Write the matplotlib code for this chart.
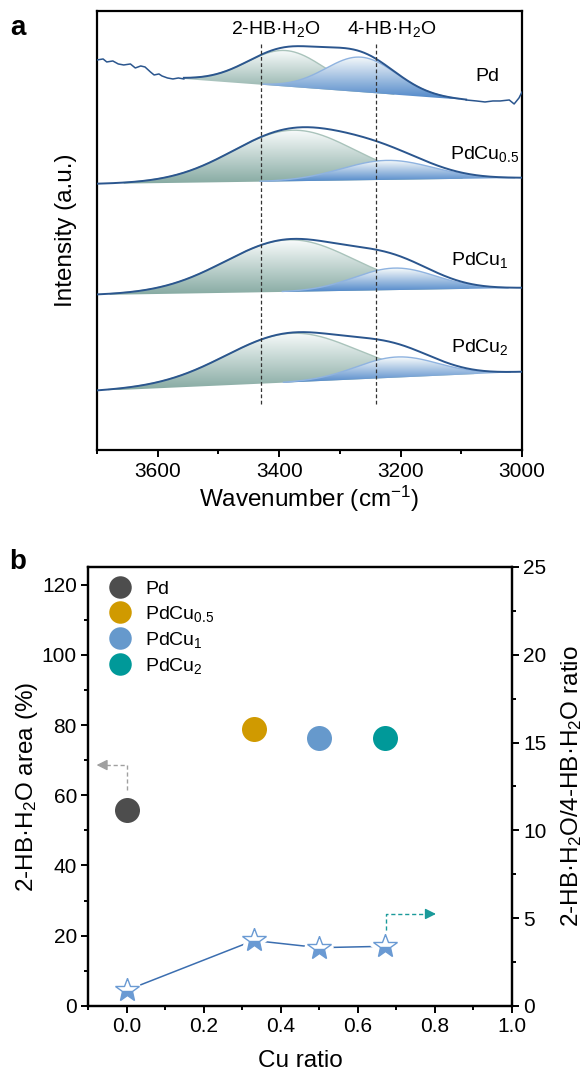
import numpy as np
import matplotlib
matplotlib.use('Agg')
from matplotlib import pyplot as plt
from matplotlib.colors import LinearSegmentedColormap
from matplotlib.ticker import MultipleLocator, FormatStrFormatter

plt.rcParams['font.family'] = ['Liberation Sans', 'DejaVu Sans']
plt.rcParams['mathtext.default'] = 'regular'

# ---------------- panel a: fitted spectra (offset, a.u.) ----------------
samples = ['Pd', 'PdCu$_{0.5}$', 'PdCu$_1$', 'PdCu$_2$']
fit_start = [3557, 3700, 3700, 3700]
fit_end = [3092, 3000, 3000, 3000]
base_start = [371, 266, 155, 59]
base_end = [350, 272, 162, 78]
# 2-HB.H2O component
c1 = [3389, 3377, 3383, 3380]
h1 = [36, 51, 52, 49]
s1 = [64, 100, 106, 108]
# 4-HB.H2O component
c2 = [3265, 3222, 3209, 3206]
h2 = [35, 19.5, 22, 20.6]
s2 = [58, 75, 67, 67]
label_x = [3057, 3061, 3070, 3070]
label_y = [373, 296, 190, 103]

# raw Pd data outside the fit range
pd_left_x = [3700, 3690, 3684, 3674, 3665, 3656, 3645, 3637, 3628, 3621, 3612,
             3606, 3598, 3593, 3584, 3575, 3566, 3557]
pd_left_y = [390, 391, 388, 389, 386, 385, 386, 382, 384, 383, 378,
             375, 376, 374, 372, 371, 372, 371]
pd_right_x = [3092, 3075, 3061, 3048, 3036, 3021, 3013, 3005, 3000]
pd_right_y = [350, 349, 348, 349, 349, 350, 346, 352, 358]

band_pos = [3430, 3240]
band_names = ['2-HB·H$_2$O', '4-HB·H$_2$O']
band_label_x = [3405, 3215]

# ---------------- panel b ----------------
cu_ratio = [0.0, 0.33, 0.5, 0.67]
area_2hb = [55.8, 78.9, 76.3, 76.3]
hb_ratio = [0.89, 3.73, 3.32, 3.40]
pt_colors = ['#4d4d4d', '#d09a00', '#6699cc', '#009999']

green = '#86aaa2'
blue = '#4f87c9'


def gauss(x, c, h, s):
    return h * np.exp(-(x - c) ** 2 / (2 * s ** 2))


def grad_fill(ax, x, lo, hi, color, z):
    poly = ax.fill_between(x, lo, hi, facecolor='none', edgecolor='none', zorder=z)
    path = poly.get_paths()[0]
    cmap = LinearSegmentedColormap.from_list('g', [color, '#f8fbfb'])
    grad = np.linspace(0, 1, 256).reshape(-1, 1)
    im = ax.imshow(grad, extent=[x.min(), x.max(), lo.min(), hi.max()], origin='lower',
                   aspect='auto', cmap=cmap, zorder=z, interpolation='bilinear')
    im.set_clip_path(path, transform=ax.transData)


fig = plt.figure(figsize=(5.87, 10.75), dpi=100)
ax = fig.add_axes([0.1653, 0.5814, 0.724, 0.4084])

for k in range(4):
    x = np.linspace(fit_start[k], fit_end[k], 400)
    base = base_start[k] + (x - fit_start[k]) / (fit_end[k] - fit_start[k]) * (base_end[k] - base_start[k])
    g1 = gauss(x, c1[k], h1[k], s1[k])
    g2 = gauss(x, c2[k], h2[k], s2[k])
    m1 = g1 > 0.02 * h1[k]
    m2 = g2 > 0.02 * h2[k]
    grad_fill(ax, x[m1], base[m1], base[m1] + g1[m1], green, 2)
    ax.plot(x[m1], base[m1] + g1[m1], color='#a9c3bb', lw=1, zorder=3)
    grad_fill(ax, x[m2], base[m2], base[m2] + g2[m2], blue, 4)
    ax.plot(x[m2], base[m2] + g2[m2], color='#8fb3e0', lw=1, zorder=5)
    ax.plot(x, base + g1 + g2, color='#2b568e', lw=1.4, zorder=6)
    ax.text(label_x[k], label_y[k], samples[k], fontsize=14, ha='center', va='center')

ax.plot(pd_left_x, pd_left_y, color='#2b568e', lw=1.1, zorder=6)
ax.plot(pd_right_x, pd_right_y, color='#2b568e', lw=1.1, zorder=6)

for xp in band_pos:
    ax.plot([xp, xp], [46, 407], color='#333333', lw=0.9, ls=(0, (3, 2)), zorder=7)
for xp, nm in zip(band_label_x, band_names):
    ax.text(xp, 421, nm, fontsize=14, ha='center', va='center')

ax.set_xlim(3700, 3000)
ax.set_ylim(0, 439)
ax.set_yticks([])
ax.xaxis.set_major_locator(MultipleLocator(200))
ax.xaxis.set_minor_locator(MultipleLocator(100))
ax.tick_params(axis='x', which='major', direction='out', length=5, width=1.4, labelsize=15, pad=4)
ax.tick_params(axis='x', which='minor', direction='out', length=3, width=1.4)
for sp in ax.spines.values():
    sp.set_linewidth(1.6)
ax.set_xlabel('Wavenumber (cm$^{−1}$)', fontsize=17.5)
ax.xaxis.set_label_coords(0.5, -0.078)
ax.set_ylabel('Intensity (a.u.)', fontsize=17.5)
ax.yaxis.set_label_coords(-0.047, 0.5)
fig.text(18 / 587, 1 - 28 / 1075, 'a', fontsize=20, fontweight='bold', ha='center', va='center')

# ---------------- panel b ----------------
bx = fig.add_axes([0.1499, 0.0642, 0.7223, 0.4084])
bx2 = bx.twinx()

handles = []
for i in range(4):
    h, = bx.plot(cu_ratio[i], area_2hb[i], 'o', ms=18, color=pt_colors[i], mec='none',
                 label=samples[i], zorder=5)
    handles.append(h)

# dashed guide arrows
bx.plot([0, 0, -0.06], [61.5, 68.6, 68.6], color='#a0a0a0', lw=1, ls=(0, (3, 2)))
bx.annotate('', xy=(-0.085, 68.6), xytext=(-0.06, 68.6),
            arrowprops=dict(arrowstyle='-|>', color='#a0a0a0', lw=1, mutation_scale=16))

bx2.plot(cu_ratio, hb_ratio, color='#3b6eb0', lw=1.1, zorder=2)
bx2.plot(cu_ratio, hb_ratio, '*', ms=18, color='white', mec='white', mew=7, zorder=3)
bx2.plot(cu_ratio, hb_ratio, '*', ms=18, color='#6a9ad3', mec='#6a9ad3', mew=1,
         fillstyle='bottom', markerfacecoloralt='white', zorder=4)
bx2.plot([0.673, 0.673, 0.78], [3.95, 5.24, 5.24], color='#1a9a9a', lw=1, ls=(0, (3, 2)))
bx2.annotate('', xy=(0.81, 5.24), xytext=(0.78, 5.24),
             arrowprops=dict(arrowstyle='-|>', color='#1a9a9a', lw=1, mutation_scale=16))

bx.set_xlim(-0.1, 1.0)
bx.set_ylim(0, 125)
bx2.set_ylim(0, 25)
bx.xaxis.set_major_locator(MultipleLocator(0.2))
bx.xaxis.set_minor_locator(MultipleLocator(0.1))
bx.xaxis.set_major_formatter(FormatStrFormatter('%.1f'))
bx.yaxis.set_major_locator(MultipleLocator(20))
bx.yaxis.set_minor_locator(MultipleLocator(10))
bx2.yaxis.set_major_locator(MultipleLocator(5))
bx2.yaxis.set_minor_locator(MultipleLocator(2.5))
for a in (bx, bx2):
    a.tick_params(which='major', direction='out', length=5, width=1.4, labelsize=15, pad=3)
    a.tick_params(which='minor', direction='out', length=3, width=1.4)
    for sp in a.spines.values():
        sp.set_linewidth(1.6)

bx.set_xlabel('Cu ratio', fontsize=17.5)
bx.xaxis.set_label_coords(0.5, -0.1)
bx.set_ylabel('2-HB·H$_2$O area (%)', fontsize=17.5)
bx.yaxis.set_label_coords(-0.113, 0.5)
bx2.set_ylabel('2-HB·H$_2$O/4-HB·H$_2$O ratio', fontsize=17.5)
bx2.yaxis.set_label_coords(1.112, 0.5)

bx.legend(handles=handles, loc='upper left', bbox_to_anchor=(0.02, 1.0), frameon=False,
          fontsize=14, markerscale=0.9, handlelength=1.0, handletextpad=0.8,
          labelspacing=0.3, borderaxespad=0.3)

fig.text(18 / 587, 1 - 562 / 1075, 'b', fontsize=20, fontweight='bold', ha='center', va='center')

fig.savefig('out.png', dpi=100)
